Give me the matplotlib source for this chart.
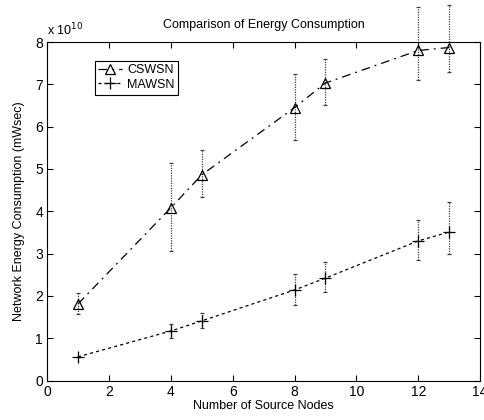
import matplotlib
matplotlib.use("Agg")
import matplotlib.pyplot as plt
import numpy as np

plt.rcParams['font.family'] = ['Liberation Sans', 'DejaVu Sans']

nodes = [1, 4, 5, 8, 9, 12, 13]
cswsn = [1.81, 4.08, 4.86, 6.45, 7.03, 7.80, 7.87]
cswsn_lo = [1.57, 3.06, 4.34, 5.69, 6.52, 7.10, 7.29]
cswsn_hi = [2.07, 5.14, 5.45, 7.25, 7.60, 8.82, 8.87]
mawsn = [0.56, 1.17, 1.41, 2.14, 2.42, 3.30, 3.51]
mawsn_lo = [0.56, 1.00, 1.24, 1.78, 2.09, 2.85, 2.99]
mawsn_hi = [0.56, 1.34, 1.60, 2.52, 2.80, 3.80, 4.22]
scale_exp = 10

fig = plt.figure(figsize=(4.85, 4.2), dpi=100)
ax = fig.add_axes([0.097, 0.094, 0.893, 0.806])

def errs(v, lo, hi):
    v = np.array(v); return [v - np.array(lo), np.array(hi) - v]

for y, lo, hi in [(cswsn, cswsn_lo, cswsn_hi), (mawsn, mawsn_lo, mawsn_hi)]:
    eb = ax.errorbar(nodes, y, yerr=errs(y, lo, hi), fmt='none', ecolor='0.25',
                     elinewidth=0.9, capsize=1.2, capthick=0.9, clip_on=False)
    for c in eb[2]:
        c.set_linestyle((0, (1, 1)))
        c.set_clip_on(False)
    for c in eb[1]:
        c.set_clip_on(False)

ax.plot(nodes, cswsn, color='black', linestyle=(0, (7, 4, 1.5, 4)), linewidth=0.9,
        marker='^', markersize=7.5, markerfacecolor='none', markeredgewidth=0.9,
        label='CSWSN', clip_on=False)
ax.plot(nodes, mawsn, color='black', linestyle=(0, (2.5, 2.5)), linewidth=0.9,
        marker='+', markersize=9, markeredgewidth=0.9,
        label='MAWSN', clip_on=False)

ax.set_xlim(0, 14)
ax.set_ylim(0, 8)
ax.set_xticks(range(0, 15, 2))
ax.set_yticks(range(0, 9))
ax.tick_params(direction='in', length=4, labelsize=10, top=True, right=True,
               labeltop=False, labelright=False, width=0.8, pad=3)
for s in ax.spines.values():
    s.set_linewidth(0.8)

ax.set_xlabel('Number of Source Nodes', fontsize=9, labelpad=1)
ax.set_ylabel('Network Energy Consumption (mWsec)', fontsize=9, labelpad=7)
ax.set_title('Comparison of Energy Consumption', fontsize=9, pad=10)
ax.text(0.0, 1.012, r'x 10$^{%d}$' % scale_exp, transform=ax.transAxes,
        fontsize=9, ha='left', va='bottom')

leg = ax.legend(loc='upper left', bbox_to_anchor=(0.11, 0.945), fontsize=9,
                frameon=True, fancybox=False, edgecolor='black', framealpha=1,
                handlelength=1.9, handletextpad=0.4, borderpad=0.3,
                labelspacing=0.2, borderaxespad=0)
leg.get_frame().set_linewidth(0.8)

fig.savefig('out.png', dpi=100)
